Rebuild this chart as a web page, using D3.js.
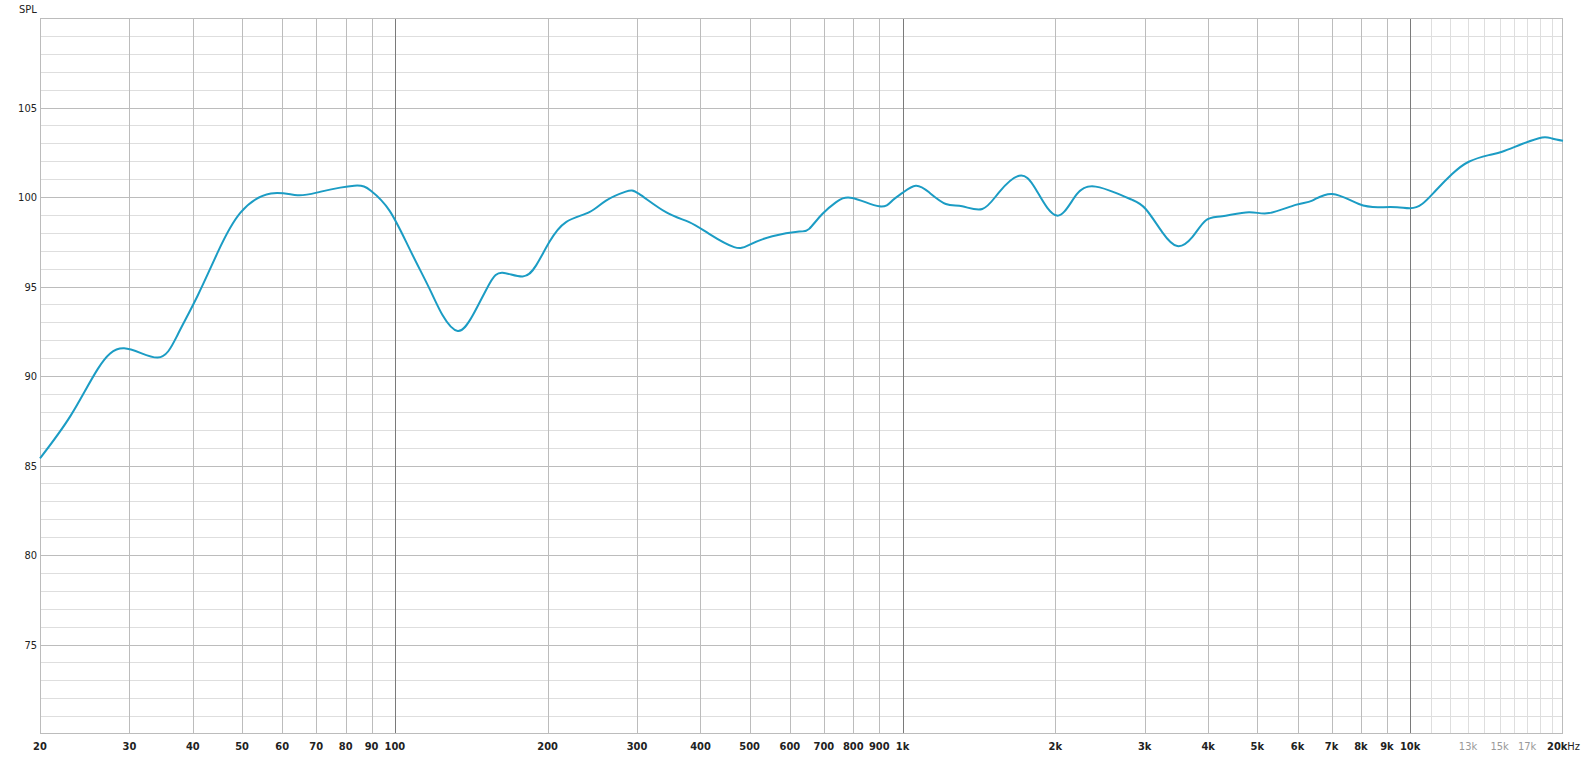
<!DOCTYPE html>
<html>
<head>
<meta charset="utf-8">
<script src="https://d3js.org/d3.v7.min.js"></script>
<style>
body { margin: 0; background: #fff; }
svg { display: block; }
.tick-label { font-family: "DejaVu Sans Condensed", "DejaVu Sans", sans-serif; font-size: 11px; font-weight: bold; fill: #222; }
.y-label { font-family: "DejaVu Sans Condensed", "DejaVu Sans", sans-serif; font-size: 11px; fill: #222; }
</style>
</head>
<body>
<svg width="1583" height="758"></svg>
<script>
// frequency response (Hz, dB SPL)
var freqs = [20, 23, 26, 29.3, 34.1, 37.3, 40.9, 44.8, 49.7, 57, 64.3, 71.5, 83.2, 89.7, 97.6, 106.9,
  117, 124.2, 133, 142.4, 153.6, 163, 178.5, 189.8, 201.5, 217.4, 241.6, 260.6, 285, 302.8, 342, 380,
  416, 466, 499, 554, 626, 655, 695, 739, 796, 900, 955, 1000, 1062, 1128, 1217, 1311, 1436, 1549,
  1697, 1829, 2015, 2207, 2402, 2630, 2836, 3013, 3247, 3478, 3722, 3955, 4265, 4814, 5270, 5947,
  6413, 7022, 7925, 8670, 9426, 10000, 10555, 11220, 12093, 13045, 14280, 15170, 16600, 18190, 19030, 20000];
var spl = [85.4, 87.8, 90.4, 91.55, 91.03, 92.28, 94.5, 96.92, 99.14, 100.2, 100.1, 100.3, 100.63, 100.35, 99.24, 97.1,
  94.88, 93.39, 92.52, 93.39, 95.16, 95.77, 95.56, 96.18, 97.48, 98.6, 99.15, 99.8, 100.3, 100.17, 99.15, 98.6,
  97.94, 97.2, 97.33, 97.81, 98.07, 98.22, 99.05, 99.7, 99.95, 99.48, 99.8, 100.23, 100.63, 100.26, 99.61, 99.48, 99.33, 100.26,
  101.19, 100.45, 98.96, 100.17, 100.58, 100.23, 99.84, 99.33, 98.04, 97.26, 97.76, 98.69, 98.93, 99.15, 99.1, 99.56,
  99.8, 100.17, 99.61, 99.43, 99.43, 99.37, 99.61, 100.35, 101.28, 101.97, 102.34, 102.53, 102.96, 103.33, 103.27, 103.14];

var xLabels = [20, 30, 40, 50, 60, 70, 80, 90, 100, 200, 300, 400, 500, 600, 700, 800, 900,
  1000, 2000, 3000, 4000, 5000, 6000, 7000, 8000, 9000, 10000];
var xLightLabels = [13000, 15000, 17000];
var xMinor = [11000, 12000, 13000, 14000, 15000, 16000, 17000, 18000, 19000];
var decades = [100, 1000, 10000];
var yLabels = [75, 80, 85, 90, 95, 100, 105];

var svg = d3.select("svg");
var margin = {top: 18, right: 20, bottom: 24, left: 40};
var width = 1583, height = 758;

var x = d3.scaleLog().domain([20, 20000]).range([margin.left, width - margin.right]);
var y = d3.scaleLinear().domain([70, 110]).range([height - margin.bottom, margin.top]);

function fmt(f) { return f >= 1000 ? (f / 1000) + "k" : f; }

var grid = svg.append("g");

// horizontal grid, 1 dB minor, 5 dB major
grid.selectAll(".hminor").data(d3.range(71, 110)).enter().append("line")
  .attr("x1", margin.left).attr("x2", width - margin.right)
  .attr("y1", d => Math.round(y(d)) + 0.5).attr("y2", d => Math.round(y(d)) + 0.5)
  .attr("stroke", d => d % 5 == 0 ? "#bcbcbc" : "#dedede");

// vertical grid
grid.selectAll(".vminor").data(xMinor).enter().append("line")
  .attr("x1", d => Math.round(x(d)) + 0.5).attr("x2", d => Math.round(x(d)) + 0.5)
  .attr("y1", margin.top).attr("y2", height - margin.bottom)
  .attr("stroke", "#dedede");

grid.selectAll(".vmajor").data(xLabels.slice(1)).enter().append("line")
  .attr("x1", d => Math.round(x(d)) + 0.5).attr("x2", d => Math.round(x(d)) + 0.5)
  .attr("y1", margin.top).attr("y2", height - margin.bottom)
  .attr("stroke", d => decades.includes(d) ? "#7a7a7a" : "#bcbcbc");

// frame
svg.append("rect")
  .attr("x", margin.left + 0.5).attr("y", margin.top + 0.5)
  .attr("width", width - margin.left - margin.right - 1)
  .attr("height", height - margin.top - margin.bottom - 1)
  .attr("fill", "none").attr("stroke", "#bcbcbc");

// curve
var line = d3.line()
  .curve(d3.curveNatural)
  .x((d, i) => x(freqs[i]))
  .y(d => y(d));

svg.append("path")
  .datum(spl)
  .attr("d", line)
  .attr("fill", "none")
  .attr("stroke", "#1b9cc4")
  .attr("stroke-width", 2);

// x labels
svg.selectAll(".xl").data(xLabels).enter().append("text")
  .attr("class", "tick-label")
  .attr("x", d => x(d))
  .attr("y", 750)
  .attr("text-anchor", "middle")
  .text(fmt);

svg.selectAll(".xll").data(xLightLabels).enter().append("text")
  .attr("class", "tick-label")
  .style("font-weight", "normal")
  .style("fill", "#999")
  .attr("x", d => x(d))
  .attr("y", 750)
  .attr("text-anchor", "middle")
  .text(fmt);

var last = svg.append("text")
  .attr("class", "tick-label")
  .attr("x", x(20000) - 16)
  .attr("y", 750);
last.append("tspan").text("20k");
last.append("tspan").style("font-weight", "normal").text("Hz");

// y labels
svg.selectAll(".yl").data(yLabels).enter().append("text")
  .attr("class", "y-label")
  .attr("x", 37)
  .attr("y", d => y(d) + 4)
  .attr("text-anchor", "end")
  .text(d => d);

svg.append("text")
  .attr("class", "y-label")
  .attr("x", 19)
  .attr("y", 13)
  .text("SPL");
</script>
</body>
</html>
